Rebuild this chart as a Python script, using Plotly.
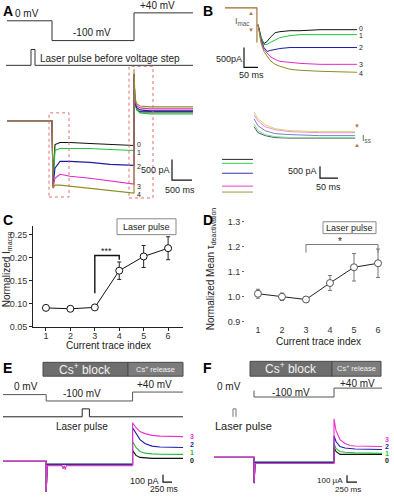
import plotly.graph_objects as go

W, H = 394, 499
FONT = "Liberation Sans, Arial, sans-serif"

# ---------------- DATA ----------------
TRACE_LABELS = ["0", "1", "2", "3", "4"]
TRACE_COLORS = ["#111111", "#1fc43c", "#1c1ca6", "#e22bc8", "#8e8e22"]

# Panel A: voltage protocol (ms, mV), laser pulse, currents (ms, pA)
A_V_T = [0, 1125, 1125, 3175, 3175, 4650]
A_V_MV = [0, 0, -100, -100, 40, 40]
A_L_T = [-25, 600, 600, 700, 700, 4650]
A_L = [0, 0, 1, 1, 0, 0]
A_T = [0, 1125, 1150, 1200, 1325, 1575, 2075, 2575, 3175, 3175, 3200, 3250, 3325, 3575, 4075, 4650]
A_I0 = [0, 0, -1512, -576, -528, -528, -552, -576, -600, 1128, 408, 264, 216, 216, 216, 216]
A_I1 = [0, 0, -1536, -720, -672, -672, -672, -696, -720, 1128, 408, 264, 192, 168, 168, 168]
A_I2 = [0, 0, -1584, -1152, -984, -984, -1008, -1056, -1080, 1128, 432, 312, 264, 240, 240, 240]
A_I3 = [0, 0, -1632, -1392, -1296, -1344, -1392, -1464, -1536, 1128, 456, 360, 312, 288, 288, 288]
A_I4 = [0, 0, -1632, -1560, -1560, -1584, -1632, -1680, -1752, 1248, 528, 408, 360, 336, 336, 336]
A_SCALE_PA, A_SCALE_MS = 500, 500

# Panel B (top): tail at -100 mV
B_HOLD_T = [0, 114, 114]
B_HOLD_I = [0, 0, -875]
B_T = [118, 129, 139, 150, 161, 179, 196, 232, 268, 339, 471]
B_I0 = [-425, -750, -900, -850, -750, -625, -600, -575, -575, -550, -550]
B_I1 = [-425, -750, -925, -925, -875, -800, -750, -700, -675, -675, -675]
B_I2 = [-425, -800, -1000, -1100, -1075, -1050, -1025, -1000, -1000, -1000, -1000]
B_I3 = [-425, -850, -1050, -1150, -1225, -1300, -1350, -1375, -1400, -1425, -1425]
B_I4 = [-425, -900, -1100, -1225, -1325, -1425, -1475, -1550, -1575, -1600, -1625]
B_SCALE_PA, B_SCALE_MS = 500, 50

# Panel B (bottom): deactivation at +40 mV
B2_T = [0, 11, 31, 58, 100, 183, 281]
B2_I0 = [708, 458, 333, 250, 229, 229, 229]
B2_I1 = [833, 542, 375, 292, 250, 250, 250]
B2_I2 = [1042, 750, 542, 417, 375, 333, 333]
B2_I3 = [1208, 958, 708, 583, 500, 458, 458]
B2_I4 = [1333, 1042, 792, 625, 542, 500, 500]
B2_BASE_T = [-89, -3]
B2_BASE_I = [-667, -833, -1250, -1792, -2042]
B2_SCALE_PA, B2_SCALE_MS = 500, 50

# Panel C
IDX = [1, 2, 3, 4, 5, 6]
C_MEAN = [0.091, 0.089, 0.092, 0.172, 0.203, 0.221]
C_ERR = [0.003, 0.003, 0.004, 0.019, 0.024, 0.025]
C_BRACKET_X = [3, 3, 4, 4]
C_BRACKET_Y = [0.123, 0.205, 0.205, 0.196]
C_YTICKS = [0.05, 0.10, 0.15, 0.20, 0.25]

# Panel D
D_MEAN = [1.012, 1.0, 0.989, 1.055, 1.118, 1.134]
D_ERR = [0.018, 0.015, 0.01, 0.03, 0.055, 0.057]
D_BRACKET_X = [3, 3, 6, 6]
D_BRACKET_Y = [1.177, 1.209, 1.209, 1.177]
D_YTICKS = [0.9, 1.0, 1.1, 1.2, 1.3]

# Panel E
E_V_T = [0, 1200, 1200, 3600, 3600, 5000]
E_V_MV = [0, 0, -100, -100, 40, 40]
E_L_T = [0, 2200, 2200, 2400, 2400, 5000]
E_L = [0, 0, 1, 1, 0, 0]
E_T = [0, 1200, 1200, 1230, 1640, 1670, 1700, 1730, 1760, 3600, 3600, 3694, 3806, 3944, 4139, 4361, 5000]
E_I0 = [0, 0, -413, -40, -40, -40, -40, -40, -40, -40, 147, 80, 53, 45, 40, 40, 40]
E_I1 = [0, 0, -413, -40, -40, -40, -40, -40, -40, -40, 267, 187, 133, 110, 100, 95, 93]
E_I2 = [0, 0, -413, -40, -40, -40, -40, -40, -40, -40, 453, 373, 293, 240, 205, 193, 187]
E_I3 = [0, 0, -413, -58, -58, -100, -58, -110, -58, -58, 520, 452, 400, 373, 350, 340, 333]
E_SCALE_PA, E_SCALE_MS = 100, 250

# Panel F
F_V_T = [1000, 1000, 3000, 3000, 4200]
F_V_MV = [0, -100, -100, 40, 40]
F_L_T = [475, 475, 550, 550]
F_L = [0, 1, 1, 0]
F_T = [0, 1000, 1000, 1030, 3000, 3000, 3050, 3150, 3275, 3400, 3525, 4200]
F_I0 = [0, 0, -372, -71, -71, 143, 86, 43, 43, 43, 43, 43]
F_I1 = [0, 0, -372, -71, -71, 200, 129, 86, 75, 71, 65, 57]
F_I2 = [0, 0, -372, -71, -71, 314, 229, 157, 135, 129, 120, 114]
F_I3 = [0, 0, -372, -88, -88, 557, 386, 257, 200, 171, 165, 157]
F_SCALE_PA, F_SCALE_MS = 100, 250

# ---------------- LAYOUT HELPERS ----------------
layout = dict(width=W, height=H, margin=dict(l=0, r=0, t=0, b=0),
              paper_bgcolor="white", plot_bgcolor="rgba(0,0,0,0)",
              showlegend=False, annotations=[], shapes=[],
              font=dict(family=FONT, color="#222"))
traces = []
_n = [0]


def _names():
    _n[0] += 1
    n = _n[0]
    return (("xaxis", "yaxis", "x", "y") if n == 1 else
            (f"xaxis{n}", f"yaxis{n}", f"x{n}", f"y{n}"))


class Ax:
    """Hidden axes whose data units map linearly to pixel positions."""
    def __init__(self, x0, x1, y0, y1, ox, sx, oy, sy):
        self.ox, self.sx, self.oy, self.sy = ox, sx, oy, sy
        xa, ya, self.x, self.y = _names()
        layout[xa] = dict(domain=[x0 / W, x1 / W], range=[(x0 - ox) * sx, (x1 - ox) * sx],
                          anchor=self.y, visible=False, fixedrange=True)
        layout[ya] = dict(domain=[1 - y1 / H, 1 - y0 / H], range=[(oy - y1) * sy, (oy - y0) * sy],
                          anchor=self.x, visible=False, fixedrange=True)

    def dx(self, px):
        return (px - self.ox) * self.sx

    def dy(self, py):
        return (self.oy - py) * self.sy

    def line(self, xs, ys, color, width=1.0):
        traces.append(go.Scatter(x=xs, y=ys, mode="lines", line=dict(color=color, width=width),
                                 xaxis=self.x, yaxis=self.y, hoverinfo="skip"))

    def scalebar(self, cx, cy, pa, ms, color="#111"):
        x0, y0 = self.dx(cx), self.dy(cy)
        self.line([x0, x0, x0 + ms], [y0 + pa, y0, y0], color, 1.2)


def txt(x, y, s, size=10, xanchor="left", color="#222", **kw):
    layout["annotations"].append(dict(x=x / W, y=1 - y / H, xref="paper", yref="paper", text=s,
                                      showarrow=False, xanchor=xanchor, yanchor="middle",
                                      borderpad=0,
                                      font=dict(size=size, color=color, family=FONT), **kw))


def rect(x0, y0, x1, y1, line="#888", fill="rgba(0,0,0,0)", dash="solid", width=1):
    layout["shapes"].append(dict(type="rect", xref="paper", yref="paper", x0=x0 / W, x1=x1 / W,
                                 y0=1 - y1 / H, y1=1 - y0 / H, fillcolor=fill,
                                 line=dict(color=line, width=width, dash=dash)))


# ---------------- PANEL A ----------------
av = Ax(5, 195, 5, 45, 7, 25, 21, 5)
av.line(A_V_T, A_V_MV, "#333")
al = Ax(5, 195, 46, 70, 7, 25, 66, 1 / 16)
al.line(A_L_T, A_L, "#333")
ac = Ax(5, 195, 60, 205, 7, 25, 122, 24)
for I, c in zip([A_I0, A_I1, A_I2, A_I3, A_I4], TRACE_COLORS):
    ac.line(A_T, I, c, 1.1)
ac.scalebar(172, 182, A_SCALE_PA, A_SCALE_MS)
rect(49, 114, 69, 199, line="#e07070", dash="dot")
rect(129, 67, 153, 200, line="#e07070", dash="dot")
txt(2, 11, "<b>A</b>", 14, color="#000")
txt(14, 14, "0 mV", 10)
txt(72, 33, "-100 mV", 10)
txt(139, 6, "+40 mV", 10)
txt(39, 59, "Laser pulse before voltage step", 10)
for lab, yy in zip(TRACE_LABELS, [146, 154, 168, 188, 196]):
    txt(136, yy, lab, 7)
txt(171, 172, "500 pA", 9, xanchor="right")
txt(180, 192, "500 ms", 9, xanchor="center")

# ---------------- PANEL B ----------------
bt = Ax(215, 362, 0, 85, 225, 3.57, 8, 25)
bt.line(B_HOLD_T, B_HOLD_I, "#9a6a2a", 1.1)
for I, c in zip([B_I0, B_I1, B_I2, B_I3, B_I4], TRACE_COLORS):
    bt.line(B_T, I, c, 1.0)
bt.scalebar(244, 68, B_SCALE_PA, B_SCALE_MS)
txt(202, 11, "<b>B</b>", 14, color="#000")
txt(242, 22, "I<sub>mac</sub>", 9, xanchor="center", color="#555")
txt(251, 13, "▲", 6, xanchor="center", color="#b07850")
txt(251, 30, "▼", 6, xanchor="center", color="#b07850")
txt(243, 60, "500pA", 9, xanchor="right")
txt(251, 76, "50 ms", 9, xanchor="center")
for lab, yy in zip(TRACE_LABELS, [29, 36, 48, 65, 74]):
    txt(358, yy, lab, 7)

bb = Ax(215, 360, 100, 200, 254, 2.78, 145, 41.67)
pale = ["#556", "#7be08f", "#7d7dd0", "#f08be0", "#d8d86a"]
for I, c in zip([B2_I0, B2_I1, B2_I2, B2_I3, B2_I4], pale):
    bb.line(B2_T, I, c, 1.0)
for lvl, c in zip(B2_BASE_I, TRACE_COLORS):
    bb.line(B2_BASE_T, [lvl, lvl], c, 0.9)
bb.scalebar(320, 180, B2_SCALE_PA, B2_SCALE_MS)
txt(357, 127, "▼", 6, xanchor="center", color="#b07850")
txt(357, 146, "▲", 6, xanchor="center", color="#b07850")
txt(361, 140, "I<sub>ss</sub>", 9, color="#555")
txt(318, 173, "500 pA", 9, xanchor="right")
txt(328, 189, "50 ms", 9, xanchor="center")

# ---------------- PANEL C ----------------
xa, ya, cx, cy = _names()
layout[xa] = dict(domain=[33 / W, 183 / W], range=[0.47, 6.61], anchor=cy, tickvals=IDX,
                  showline=True, linecolor="#222", linewidth=1, ticks="outside", ticklen=3,
                  tickcolor="#222", tickfont=dict(size=9, color="#333"), showgrid=False,
                  zeroline=False, fixedrange=True, ticklabelstandoff=-2)
layout[ya] = dict(domain=[1 - 330 / H, 1 - 228 / H], range=[0.05, 0.27], anchor=cx,
                  tickvals=C_YTICKS, tickformat=".2f", showline=True, linecolor="#222",
                  linewidth=1, ticks="outside", ticklen=3, tickcolor="#222",
                  tickfont=dict(size=9, color="#333"), showgrid=False, zeroline=False,
                  fixedrange=True)
traces.append(go.Scatter(x=C_BRACKET_X, y=C_BRACKET_Y, mode="lines",
                         line=dict(color="#111", width=1.4), xaxis=cx, yaxis=cy))
traces.append(go.Scatter(x=IDX, y=C_MEAN, mode="lines+markers",
                         error_y=dict(type="data", array=C_ERR, color="#222", thickness=1, width=2),
                         line=dict(color="#111", width=1),
                         marker=dict(symbol="circle", size=7, color="white",
                                     line=dict(color="#111", width=1)),
                         xaxis=cx, yaxis=cy))
txt(2, 222, "<b>C</b>", 14, color="#000")
rect(117, 221, 176, 237, line="#888")
txt(146.5, 229, "Laser pulse", 9, xanchor="center")
txt(107, 254, "***", 9, xanchor="center")
txt(7, 272, "Normalized I<sub>macro</sub>", 10, xanchor="center", textangle=-90)
txt(108, 349, "Current trace index", 10, xanchor="center")

# ---------------- PANEL D ----------------
xa, ya, dx_, dy_ = _names()
layout[xa] = dict(domain=[245 / W, 390 / W], range=[0.46, 6.5], anchor=dy_, tickvals=IDX,
                  showline=False, ticks="", tickfont=dict(size=9, color="#333"),
                  showgrid=False, zeroline=False, fixedrange=True)
layout[ya] = dict(domain=[1 - 326 / H, 1 - 218 / H], range=[0.896, 1.324], anchor=dx_,
                  tickvals=D_YTICKS, tickformat=".1f", showline=False, ticks="outside",
                  ticklen=2, tickcolor="#666", tickfont=dict(size=9, color="#333"),
                  showgrid=False, zeroline=False, fixedrange=True)
traces.append(go.Scatter(x=D_BRACKET_X, y=D_BRACKET_Y, mode="lines",
                         line=dict(color="#777", width=1), xaxis=dx_, yaxis=dy_))
traces.append(go.Scatter(x=IDX, y=D_MEAN, mode="lines+markers",
                         error_y=dict(type="data", array=D_ERR, color="#777", thickness=1, width=2),
                         line=dict(color="#222", width=1),
                         marker=dict(symbol="circle", size=7, color="white",
                                     line=dict(color="#555", width=1)),
                         xaxis=dx_, yaxis=dy_))
txt(202, 222, "<b>D</b>", 14, color="#000")
rect(323, 224, 376, 236, line="#888")
txt(349.5, 230, "Laser pulse", 9, xanchor="center")
txt(340, 244, "*", 10, xanchor="center")
txt(211, 272, "Normalized Mean τ<sub>deactivation</sub>", 10, xanchor="center", textangle=-90)
txt(318, 345, "Current trace index", 10, xanchor="center")

# ---------------- PANEL E ----------------
ev = Ax(3, 183, 385, 410, 3, 27.78, 398.6, 15.56)
ev.line(E_V_T, E_V_MV, "#555")
el = Ax(3, 183, 408, 425, 3, 27.78, 421, 1 / 8)
el.line(E_L_T, E_L, "#222")
ec = Ax(3, 183, 420, 499, 3, 27.78, 466, 13.33)
e_cols = [TRACE_COLORS[0], "#22c033", "#1c1ca6", "#ee33cc"]
for I, c in zip([E_I0, E_I1, E_I2, E_I3], e_cols):
    ec.line(E_T, I, c, 1.1)
ec.scalebar(163, 487, E_SCALE_PA, E_SCALE_MS)
rect(43, 366, 128, 380, line="#4a4a4a", fill="#6e6e6e")
rect(128, 366, 183, 380, line="#4a4a4a", fill="#7c7c7c")
txt(2, 372, "<b>E</b>", 14, color="#000")
txt(85, 373, "Cs<sup>+</sup> block", 12, xanchor="center", color="#f2f2f2")
txt(155, 373, "Cs<sup>+</sup> release", 7.5, xanchor="center", color="#f2f2f2")
txt(13, 390, "0 mV", 10)
txt(62, 397, "-100 mV", 10)
txt(136, 388, "+40 mV", 10)
txt(82, 431, "Laser pulse", 10, xanchor="center")
for lab, yy, c in zip(["3", "2", "1", "0"], [441, 449, 457, 465], e_cols[::-1]):
    txt(192, yy, "<b>" + lab + "</b>", 7, xanchor="center", color=c)
txt(160, 486, "100 pA", 9, xanchor="right")
txt(164, 494, "250 ms", 8.5, xanchor="center")

# ---------------- PANEL F ----------------
fv = Ax(214, 385, 385, 408, 214, 25, 394.6, 15.56)
fv.line(F_V_T, F_V_MV, "#555")
fl = Ax(214, 385, 408, 425, 214, 25, 421, 1 / 8)
fl.line(F_L_T, F_L, "#777")
fc = Ax(214, 385, 420, 499, 214, 25, 462, 14.3)
for I, c in zip([F_I0, F_I1, F_I2, F_I3], e_cols):
    fc.line(F_T, I, c, 1.1)
fc.scalebar(347, 487, F_SCALE_PA, F_SCALE_MS)
rect(250, 365, 332, 380, line="#4a4a4a", fill="#6e6e6e")
rect(332, 365, 381, 380, line="#4a4a4a", fill="#7c7c7c")
txt(202, 372, "<b>F</b>", 14, color="#000")
txt(291, 372, "Cs<sup>+</sup> block", 12, xanchor="center", color="#f2f2f2")
txt(356, 372, "Cs<sup>+</sup> release", 7.5, xanchor="center", color="#f2f2f2")
txt(216, 390, "0 mV", 10)
txt(271, 396, "-100 mV", 10)
txt(339, 387, "+40 mV", 10)
txt(214, 430, "Laser pulse", 11)
for lab, yy, c in zip(["3", "2", "1", "0"], [444, 451, 458, 465], e_cols[::-1]):
    txt(387, yy, "<b>" + lab + "</b>", 7, xanchor="center", color=c)
txt(344, 485, "100 µA", 8, xanchor="right")
txt(348, 494, "250 ms", 8, xanchor="center")

fig = go.Figure(data=traces, layout=layout)
fig.write_html("out.html", config={"displayModeBar": False},
               post_script="document.body.style.margin='0';document.body.style.overflow='hidden';")
